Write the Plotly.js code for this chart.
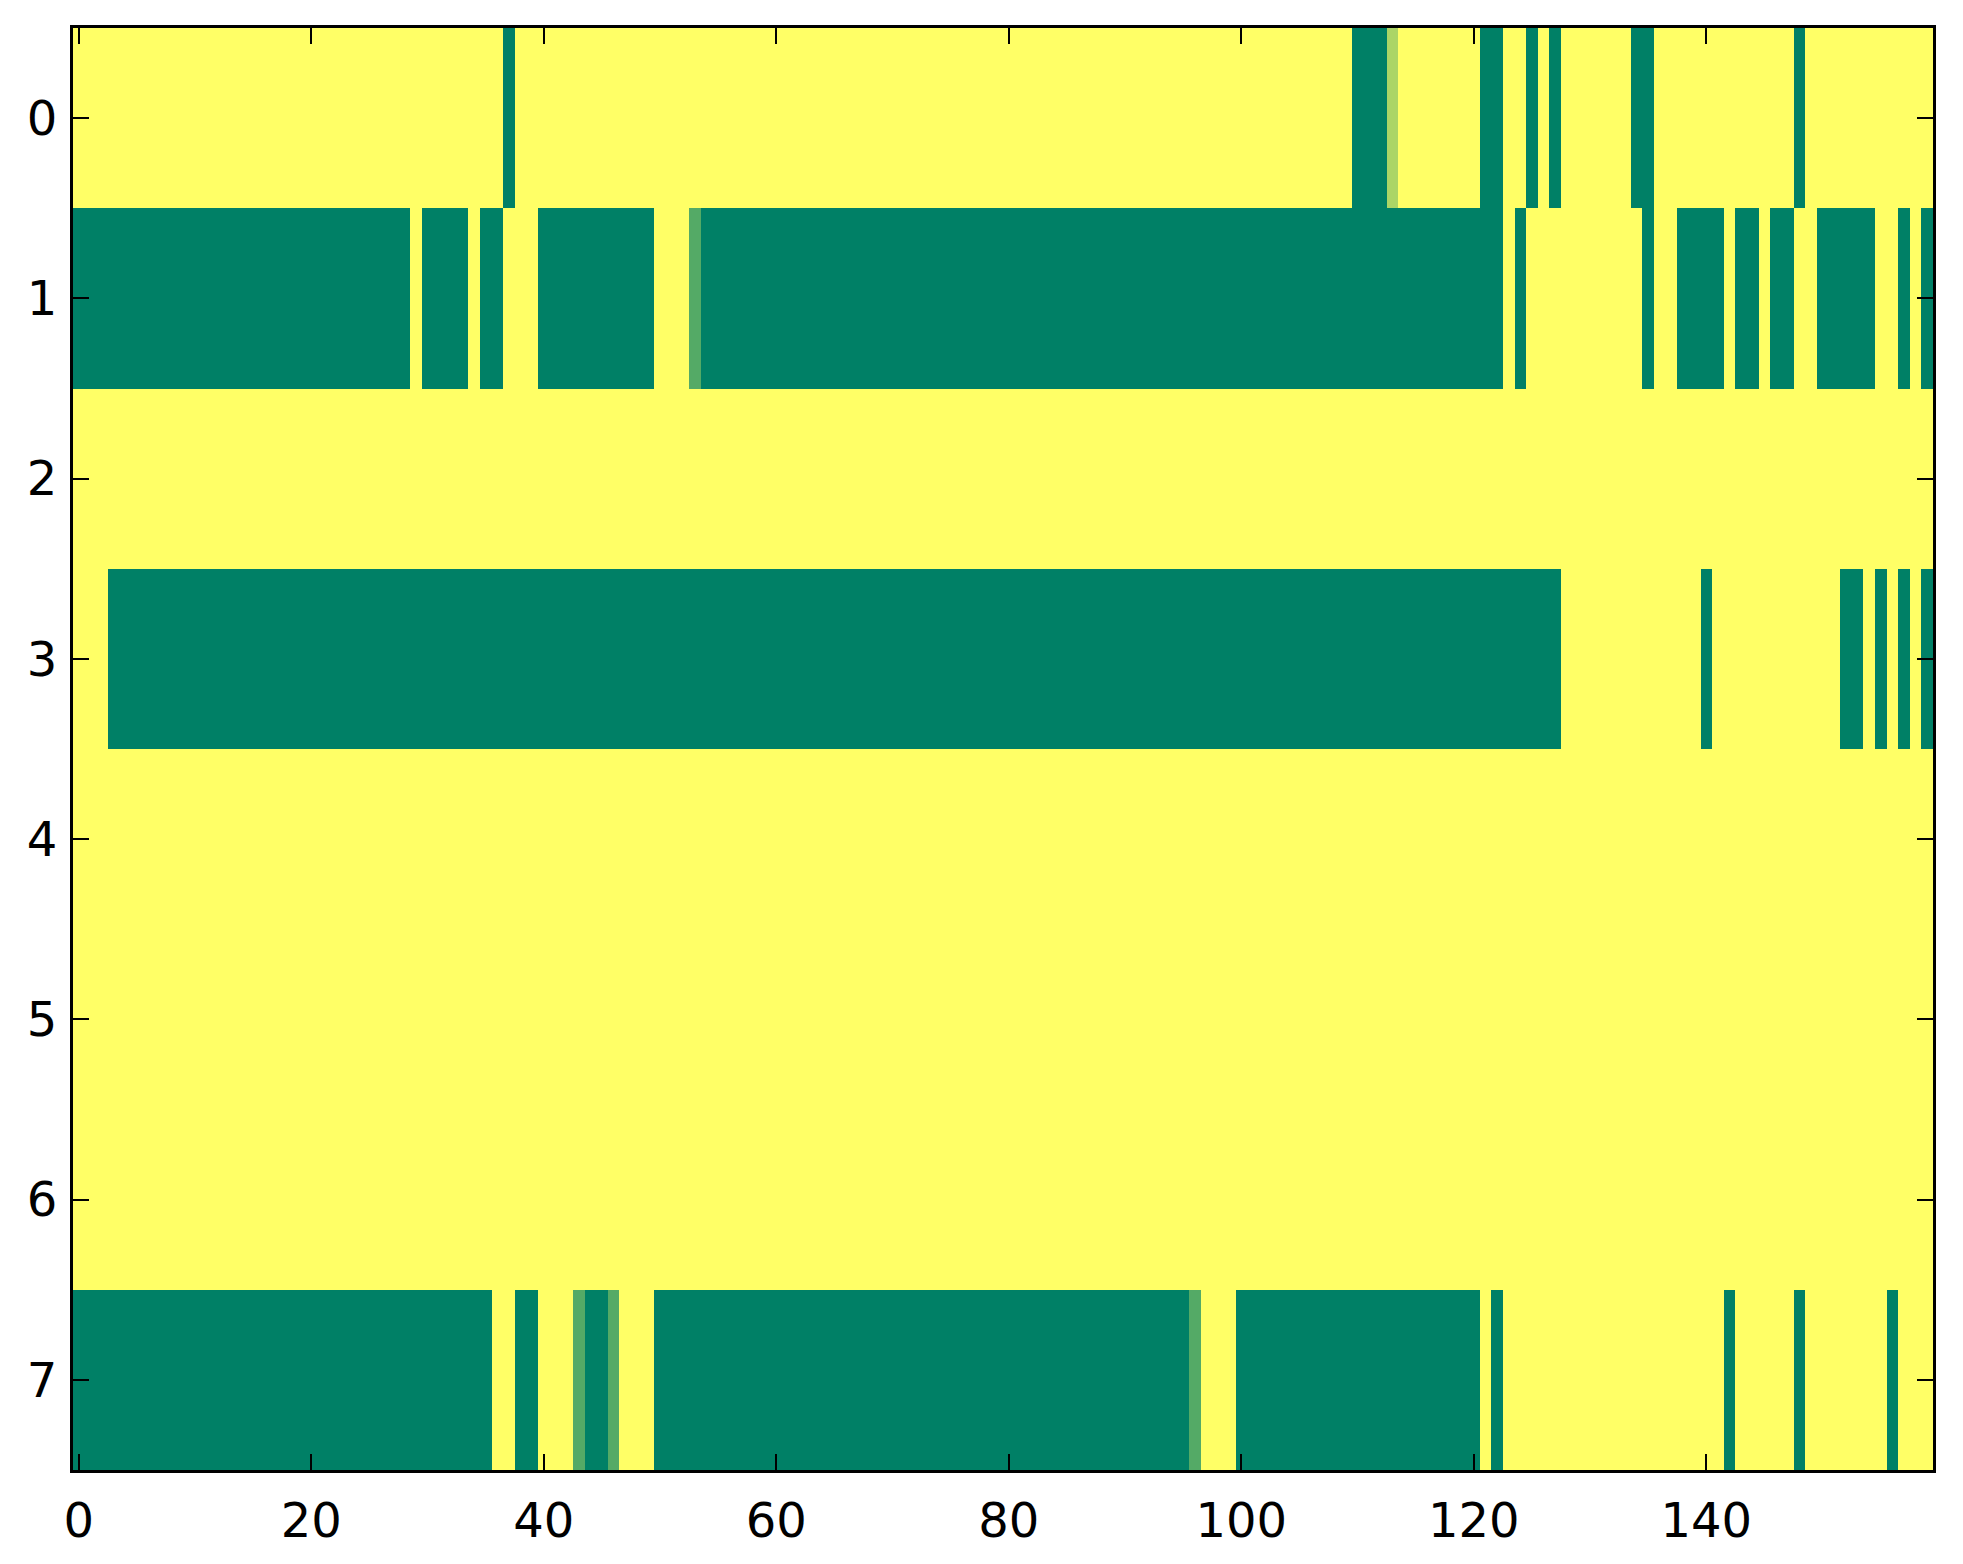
<!DOCTYPE html>
<html>
<head>
<meta charset="utf-8">
<script src="https://cdn.plot.ly/plotly-3.0.1.min.js"></script>
<style>html,body{margin:0;padding:0;background:#fff;}#chart{width:1963px;height:1564px;}</style>
</head>
<body>
<div id="chart"></div>
<script>
// Values: 1 = yellow, 0 = dark green, intermediate = lighter greens
const row0 = [
  1,1,1,1,1,1,1,1,1,1, 1,1,1,1,1,1,1,1,1,1, 1,1,1,1,1,1,1,1,1,1, 1,1,1,1,1,1,1,0,1,1,
  1,1,1,1,1,1,1,1,1,1, 1,1,1,1,1,1,1,1,1,1, 1,1,1,1,1,1,1,1,1,1, 1,1,1,1,1,1,1,1,1,1,
  1,1,1,1,1,1,1,1,1,1, 1,1,1,1,1,1,1,1,1,1, 1,1,1,1,1,1,1,1,1,1, 0,0,0,0.67,1,1,1,1,1,1,
  1,0,0,1,1,0,1,0,1,1, 1,1,1,1,0,0,1,1,1,1, 1,1,1,1,1,1,1,1,0,1, 1,1,1,1,1,1,1,1,1,1
];
const row1 = [
  0,0,0,0,0,0,0,0,0,0, 0,0,0,0,0,0,0,0,0,0, 0,0,0,0,0,0,0,0,0,1, 0,0,0,0,1,0,0,1,1,1,
  0,0,0,0,0,0,0,0,0,0, 1,1,1,0.33,0,0,0,0,0,0, 0,0,0,0,0,0,0,0,0,0, 0,0,0,0,0,0,0,0,0,0,
  0,0,0,0,0,0,0,0,0,0, 0,0,0,0,0,0,0,0,0,0, 0,0,0,0,0,0,0,0,0,0, 0,0,0,0,0,0,0,0,0,0,
  0,0,0,1,0,1,1,1,1,1, 1,1,1,1,1,0,1,1,0,0, 0,0,1,0,0,1,0,0,1,1, 0,0,0,0,0,1,1,0,1,0
];
const row2 = [
  1,1,1,1,1,1,1,1,1,1, 1,1,1,1,1,1,1,1,1,1, 1,1,1,1,1,1,1,1,1,1, 1,1,1,1,1,1,1,1,1,1,
  1,1,1,1,1,1,1,1,1,1, 1,1,1,1,1,1,1,1,1,1, 1,1,1,1,1,1,1,1,1,1, 1,1,1,1,1,1,1,1,1,1,
  1,1,1,1,1,1,1,1,1,1, 1,1,1,1,1,1,1,1,1,1, 1,1,1,1,1,1,1,1,1,1, 1,1,1,1,1,1,1,1,1,1,
  1,1,1,1,1,1,1,1,1,1, 1,1,1,1,1,1,1,1,1,1, 1,1,1,1,1,1,1,1,1,1, 1,1,1,1,1,1,1,1,1,1
];
const row3 = [
  1,1,1,0,0,0,0,0,0,0, 0,0,0,0,0,0,0,0,0,0, 0,0,0,0,0,0,0,0,0,0, 0,0,0,0,0,0,0,0,0,0,
  0,0,0,0,0,0,0,0,0,0, 0,0,0,0,0,0,0,0,0,0, 0,0,0,0,0,0,0,0,0,0, 0,0,0,0,0,0,0,0,0,0,
  0,0,0,0,0,0,0,0,0,0, 0,0,0,0,0,0,0,0,0,0, 0,0,0,0,0,0,0,0,0,0, 0,0,0,0,0,0,0,0,0,0,
  0,0,0,0,0,0,0,0,1,1, 1,1,1,1,1,1,1,1,1,1, 0,1,1,1,1,1,1,1,1,1, 1,1,0,0,1,0,1,0,1,0
];
const row4 = row2.slice();
const row5 = row2.slice();
const row6 = row2.slice();
const row7 = [
  0,0,0,0,0,0,0,0,0,0, 0,0,0,0,0,0,0,0,0,0, 0,0,0,0,0,0,0,0,0,0, 0,0,0,0,0,0,1,1,0,0,
  1,1,1,0.33,0,0,0.33,1,1,1, 0,0,0,0,0,0,0,0,0,0, 0,0,0,0,0,0,0,0,0,0, 0,0,0,0,0,0,0,0,0,0,
  0,0,0,0,0,0,0,0,0,0, 0,0,0,0,0,0,0.33,1,1,1, 0,0,0,0,0,0,0,0,0,0, 0,0,0,0,0,0,0,0,0,0,
  0,1,0,1,1,1,1,1,1,1, 1,1,1,1,1,1,1,1,1,1, 1,1,0,1,1,1,1,1,0,1, 1,1,1,1,1,1,0,1,1,1
];
const rowLabels = [0,1,2,3,4,5,6,7];
const xTicks = [0,20,40,60,80,100,120,140];

const z = [row0,row1,row2,row3,row4,row5,row6,row7];

const trace = {
  type: 'heatmap',
  z: z,
  y: rowLabels,
  colorscale: [[0,'rgb(0,128,102)'],[1,'rgb(255,255,102)']],
  zmin: 0, zmax: 1,
  showscale: false,
  zsmooth: false,
  hoverinfo: 'z'
};

const axisFont = {family: 'DejaVu Sans', size: 48, color: '#000'};
const layout = {
  width: 1963, height: 1564,
  margin: {l: 73, r: 30, t: 28, b: 94, pad: 0},
  paper_bgcolor: '#fff', plot_bgcolor: '#fff',
  showlegend: false,
  xaxis: {
    range: [-0.5, 159.5],
    tickvals: xTicks, ticktext: xTicks.map(String),
    ticks: 'inside', ticklen: 16, tickwidth: 2, tickcolor: '#000',
    showline: true, linecolor: '#000', linewidth: 3, mirror: 'ticks',
    showgrid: false, zeroline: false,
    tickfont: axisFont, ticklabelstandoff: 6
  },
  yaxis: {
    range: [7.5, -0.5],
    tickvals: rowLabels, ticktext: rowLabels.map(String),
    ticks: 'inside', ticklen: 16, tickwidth: 2, tickcolor: '#000',
    showline: true, linecolor: '#000', linewidth: 3, mirror: 'ticks',
    showgrid: false, zeroline: false,
    tickfont: axisFont, ticklabelstandoff: 3
  }
};

Plotly.newPlot('chart', [trace], layout, {displayModeBar: false, staticPlot: true});
</script>
</body>
</html>
